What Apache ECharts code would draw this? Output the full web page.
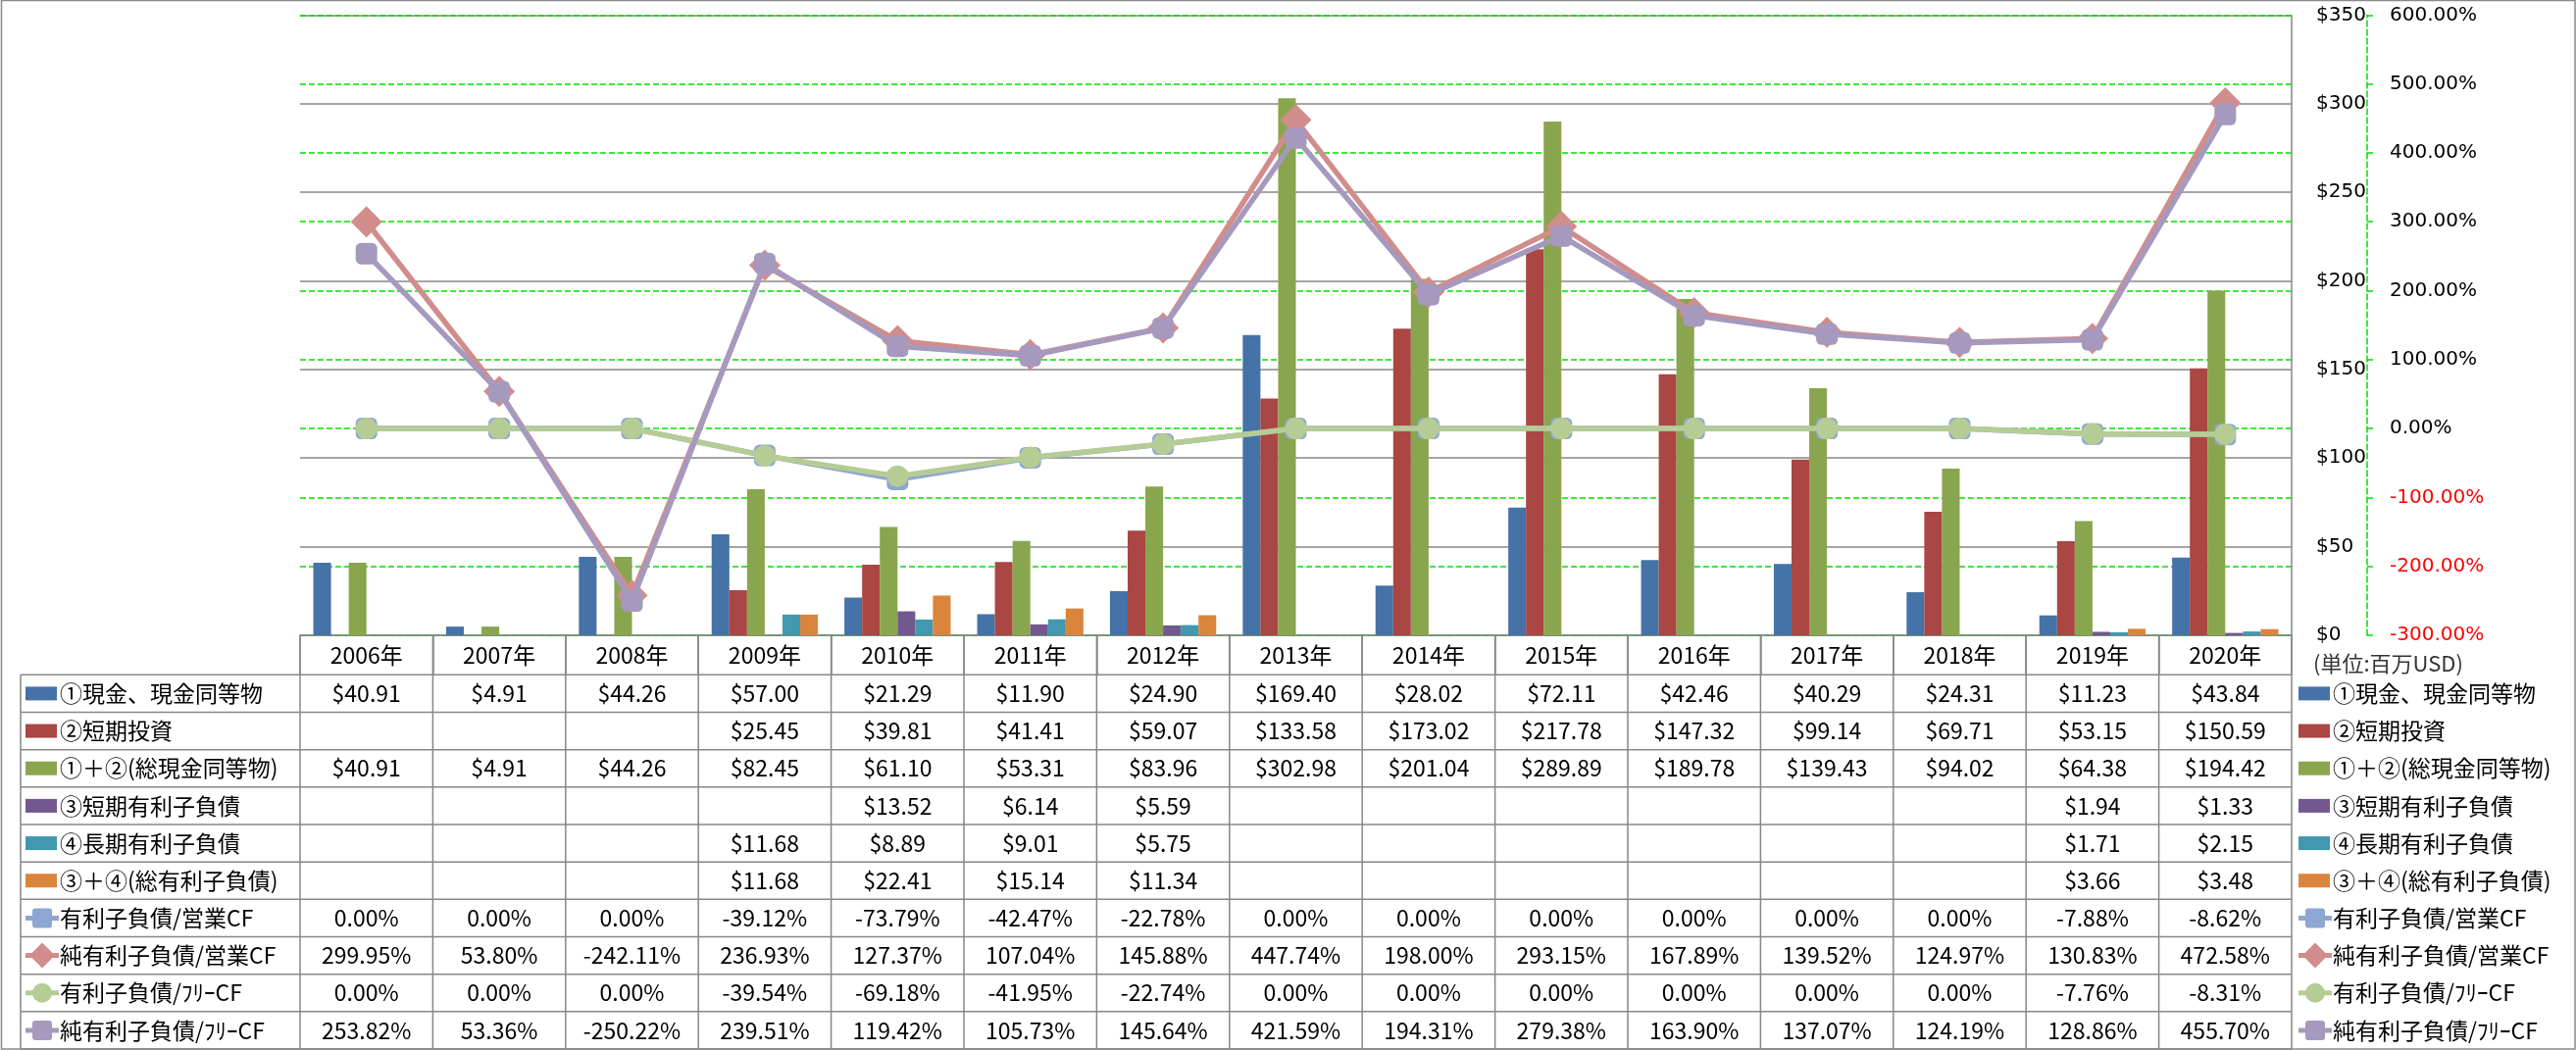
<!DOCTYPE html>
<html>
<head>
<meta charset="utf-8">
<script src="https://cdn.jsdelivr.net/npm/echarts@6/dist/echarts.min.js"></script>
<style>
html,body{margin:0;padding:0;background:#fff;}
#c{width:2627px;height:1071px;}
</style>
</head>
<body>
<div id="c"></div>
<script>
// ---- data ----
const years = ['2006年','2007年','2008年','2009年','2010年','2011年','2012年','2013年','2014年','2015年','2016年','2017年','2018年','2019年','2020年'];
const cash      = [40.91,4.91,44.26,57.00,21.29,11.90,24.90,169.40,28.02,72.11,42.46,40.29,24.31,11.23,43.84];
const stInvest  = [null,null,null,25.45,39.81,41.41,59.07,133.58,173.02,217.78,147.32,99.14,69.71,53.15,150.59];
const totalCash = [40.91,4.91,44.26,82.45,61.10,53.31,83.96,302.98,201.04,289.89,189.78,139.43,94.02,64.38,194.42];
const stDebt    = [null,null,null,null,13.52,6.14,5.59,null,null,null,null,null,null,1.94,1.33];
const ltDebt    = [null,null,null,11.68,8.89,9.01,5.75,null,null,null,null,null,null,1.71,2.15];
const totalDebt = [null,null,null,11.68,22.41,15.14,11.34,null,null,null,null,null,null,3.66,3.48];
const debtOpCF     = [0,0,0,-39.12,-73.79,-42.47,-22.78,0,0,0,0,0,0,-7.88,-8.62];
const netDebtOpCF  = [299.95,53.80,-242.11,236.93,127.37,107.04,145.88,447.74,198.00,293.15,167.89,139.52,124.97,130.83,472.58];
const debtFCF      = [0,0,0,-39.54,-69.18,-41.95,-22.74,0,0,0,0,0,0,-7.76,-8.31];
const netDebtFCF   = [253.82,53.36,-250.22,239.51,119.42,105.73,145.64,421.59,194.31,279.38,163.90,137.07,124.19,128.86,455.70];
const seriesNames = ['①現金、現金同等物','②短期投資','①＋②(総現金同等物)','③短期有利子負債','④長期有利子負債','③＋④(総有利子負債)','有利子負債/営業CF','純有利子負債/営業CF','有利子負債/ﾌﾘｰCF','純有利子負債/ﾌﾘｰCF'];
const unitLabel = '(単位:百万USD)';

// ---- style ----
const barColors = ['#4572A7','#AA4643','#89A54E','#71588F','#4198AF','#DB843D'];
const lineColors = ['#8DA6D2','#D18D8B','#B5CC95','#A699BE'];
const GRID = '#878787';
const FONT = '"Noto Sans CJK JP", "Noto Sans", sans-serif';

const chart = echarts.init(document.getElementById('c'), null, {renderer:'canvas'});

const barData = [cash, stInvest, totalCash, stDebt, ltDebt, totalDebt];
const lineData = [debtOpCF, netDebtOpCF, debtFCF, netDebtFCF];
const lineSymbols = ['roundRect','diamond','circle','roundRect'];
const lineSymbolSizes = [22, 32, 22, 22];

const series = [];
barData.forEach((d,i)=>{
  series.push({
    name: seriesNames[i], type:'bar', data:d, yAxisIndex:0,
    itemStyle:{color:barColors[i]},
    barCategoryGap:'20%', barGap:'0%', z:2, silent:true
  });
});
lineData.forEach((d,i)=>{
  series.push({
    name: seriesNames[6+i], type:'line', data:d, yAxisIndex:1,
    symbol: lineSymbols[i], symbolSize: lineSymbolSizes[i],
    lineStyle:{color:lineColors[i], width:5.5},
    itemStyle:{color:lineColors[i], opacity:1},
    z:3+i, silent:true, animation:false
  });
});

const gridLeft = 306, gridTop = 15.3, gridRight = 2337, gridBottom = 648;

chart.setOption({
  animation:false,
  grid:{left:gridLeft, top:gridTop, width:gridRight-gridLeft, height:gridBottom-gridTop, containLabel:false, outerBoundsMode:'none'},
  xAxis:{
    type:'category', data:years, boundaryGap:true,
    axisLine:{show:true, lineStyle:{color:GRID, width:1.5}},
    axisTick:{show:true, length:40, inside:false, alignWithLabel:false, lineStyle:{color:GRID, width:1.5}},
    axisLabel:{interval:0, margin:9, fontSize:23, fontFamily:FONT, color:'#000'},
    splitLine:{show:false}
  },
  yAxis:[
    {type:'value', min:0, max:350, interval:50, position:'right', offset:0,
     axisLine:{show:false}, axisTick:{show:false},
     axisLabel:{margin:25, fontSize:20, fontFamily:'"DejaVu Sans"', color:'#000', formatter:v=>'$'+v, showMinLabel:true, showMaxLabel:true},
     splitLine:{show:true, lineStyle:{color:GRID, width:1.5}}
    },
    {type:'value', min:-300, max:600, interval:100, position:'right', offset:77,
     axisLine:{show:true, lineStyle:{color:'#00E000', width:1.5, type:[6,3]}},
     axisTick:{show:true, length:9, lineStyle:{color:'#00E000', width:1.5, type:[6,3]}},
     axisLabel:{margin:23, fontSize:20, fontFamily:'"DejaVu Sans"', showMinLabel:true, showMaxLabel:true,
       formatter:v=>v.toFixed(2)+'%',
       color:v=>(Number(v)<0?'#FF0000':'#000')},
     splitLine:{show:true, lineStyle:{color:'#00E000', width:1.5, type:[6,3]}}
    }
  ],
  series:series
});

// ---- table & legends (graphic) ----
const rowTop = 688.3, rowH = 38.17, nRows = 10;
const tableLeft = 21;
const tableBottom = rowTop + rowH*nRows;
const g = [];
const L = (x1,y1,x2,y2,color,w)=>g.push({type:'line', shape:{x1,y1,x2,y2}, style:{stroke:color||GRID, lineWidth:w||1.5}, silent:true, z:10});

// outer border
g.push({type:'rect', shape:{x:1.5,y:0.5,width:2624.5,height:1069.5}, style:{fill:null, stroke:'#8a8a8a', lineWidth:1.5}, silent:true, z:1});

// horizontal table lines
for(let k=0;k<=nRows;k++){
  const y = rowTop + rowH*k;
  L(tableLeft, y, gridRight, y);
}
// vertical lines
L(tableLeft, rowTop, tableLeft, tableBottom);
const cx0 = chart.convertToPixel({xAxisIndex:0}, 0);
const cx1 = chart.convertToPixel({xAxisIndex:0}, 1);
const colW = cx1 - cx0;
for(let i=0;i<=years.length;i++){
  const x = cx0 - colW/2 + colW*i;
  L(x, gridBottom, x, tableBottom);
}
// plot right border
L(gridRight, gridTop, gridRight, gridBottom);

// cell values
const allRows = [cash, stInvest, totalCash, stDebt, ltDebt, totalDebt, debtOpCF, netDebtOpCF, debtFCF, netDebtFCF];
allRows.forEach((arr,r)=>{
  const cy = rowTop + rowH*(r+0.5);
  arr.forEach((v,i)=>{
    if(v===null || v===undefined) return;
    const cx = chart.convertToPixel({xAxisIndex:0}, i);
    const txt = r<6 ? '$'+v.toFixed(2) : v.toFixed(2)+'%';
    g.push({type:'text', x:cx, y:cy, style:{text:txt, fill:'#000', font:'23px '+FONT, align:'center', verticalAlign:'middle'}, silent:true, z:11});
  });
});

// legend keys
function legendKey(x, cy, r){
  if(r<6){
    g.push({type:'rect', shape:{x:x, y:cy-7, width:32, height:14}, style:{fill:barColors[r]}, silent:true, z:11});
  } else {
    const li = r-6, col = lineColors[li];
    g.push({type:'line', shape:{x1:x, y1:cy, x2:x+34, y2:cy}, style:{stroke:col, lineWidth:5}, silent:true, z:11});
    const mx = x+17;
    if(lineSymbols[li]==='diamond'){
      g.push({type:'polygon', shape:{points:[[mx,cy-13],[mx+13,cy],[mx,cy+13],[mx-13,cy]]}, style:{fill:col}, silent:true, z:12});
    } else if(lineSymbols[li]==='circle'){
      g.push({type:'circle', shape:{cx:mx, cy:cy, r:10}, style:{fill:col}, silent:true, z:12});
    } else {
      g.push({type:'rect', shape:{x:mx-10, y:cy-10, width:20, height:20, r:3}, style:{fill:col}, silent:true, z:12});
    }
  }
}
seriesNames.forEach((name,r)=>{
  const cy = rowTop + rowH*(r+0.5);
  legendKey(26, cy, r);
  g.push({type:'text', x:61, y:cy, style:{text:name, fill:'#000', font:'23px '+FONT, align:'left', verticalAlign:'middle'}, silent:true, z:11});
  legendKey(2344, cy, r);
  g.push({type:'text', x:2379, y:cy, style:{text:name, fill:'#000', font:'23px '+FONT, align:'left', verticalAlign:'middle'}, silent:true, z:11});
});

// unit label
g.push({type:'text', x:2359, y:677, style:{text:unitLabel, fill:'#333', font:'22px '+FONT, align:'left', verticalAlign:'middle'}, silent:true, z:11});

chart.setOption({graphic:g});
</script>
</body>
</html>
